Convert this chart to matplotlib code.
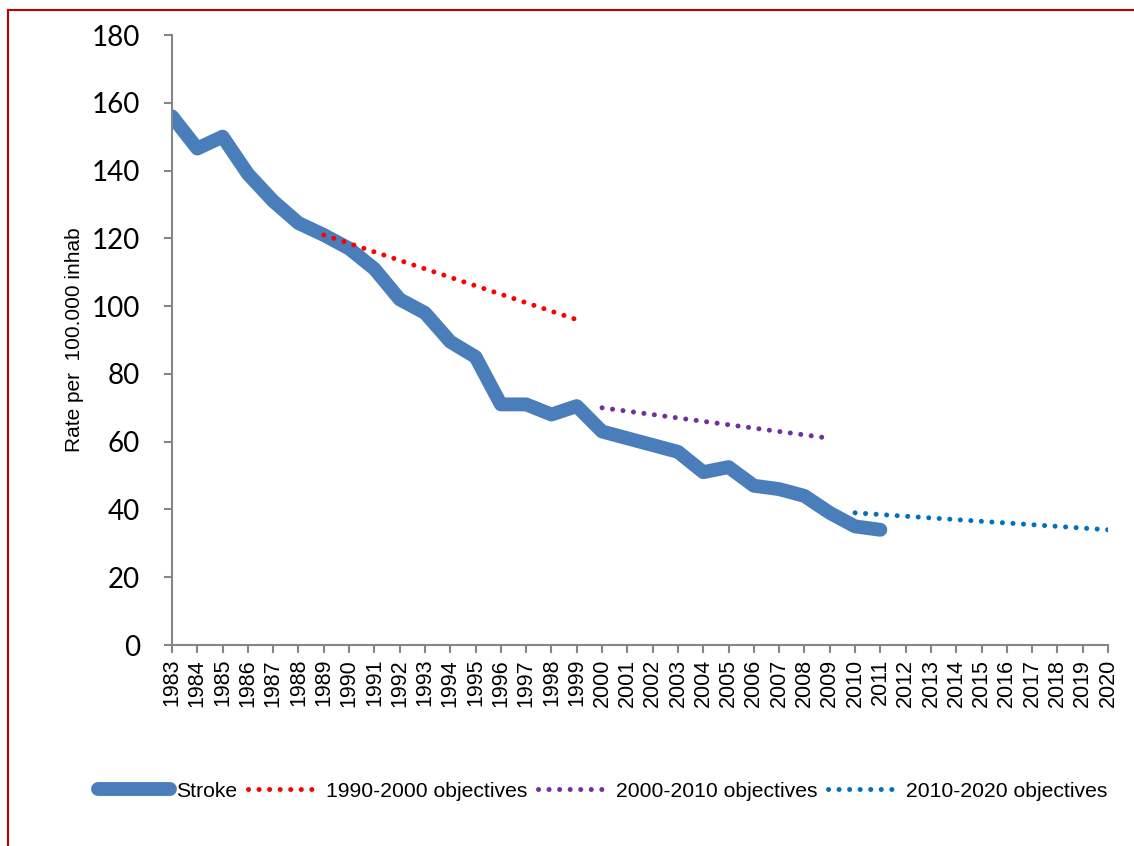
import numpy as np
import matplotlib.pyplot as plt
from matplotlib.lines import Line2D

# Years on the category axis
years = list(range(1983, 2021))

# Stroke mortality rate, 1983-2011
stroke_years = list(range(1983, 2012))
stroke = [156, 146.5, 150, 139, 131, 124.5, 121, 117, 111, 102,
          98, 89.5, 85, 71, 71, 68, 70.5, 63, 61, 59,
          57, 51, 52.5, 47, 46, 44, 39, 35, 34]

# Objective lines
obj_90_years = list(range(1989, 2000))
obj_90 = [121, 118.5, 116, 113.5, 111, 108.5, 106, 103.5, 101, 98.5, 96]
obj_00_years = list(range(2000, 2010))
obj_00 = [70, 69, 68, 67, 66, 65, 64, 63, 62, 61]
obj_10_years = list(range(2010, 2021))
obj_10 = [39, 38.5, 38, 37.5, 37, 36.5, 36, 35.5, 35, 34.5, 34]

BLUE = "#4A7EBB"
RED = "#FF0000"
PURPLE = "#7030A0"
LBLUE = "#0070C0"
AXIS = "#868686"

fig = plt.figure(figsize=(11.34, 8.46), dpi=100)
ax = fig.add_axes([172 / 1134, 1 - 645 / 846, (1108 - 172) / 1134, (645 - 35) / 846])

dot = (0, (0.01, 2.1))
ax.plot(stroke_years, stroke, color=BLUE, lw=10, solid_capstyle="round",
        solid_joinstyle="round", label="Stroke", zorder=2)
ax.plot(obj_90_years, obj_90, color=RED, lw=3.6, linestyle=dot,
        dash_capstyle="round", label="1990-2000 objectives", zorder=3)
ax.plot(obj_00_years, obj_00, color=PURPLE, lw=3.6, linestyle=dot,
        dash_capstyle="round", label="2000-2010 objectives", zorder=3)
ax.plot(obj_10_years, obj_10, color=LBLUE, lw=3.6, linestyle=dot,
        dash_capstyle="round", label="2010-2020 objectives", zorder=3)

ax.set_xlim(1983, 2020)
ax.set_ylim(0, 180)
ax.set_yticks(range(0, 181, 20))
ax.set_yticklabels([str(v) for v in range(0, 181, 20)], fontsize=20, family="Lato")
ax.set_xticks(years)
ax.set_xticklabels([str(y) for y in years], rotation=90, fontsize=15.5,
                   family="Liberation Sans")

for side in ("top", "right"):
    ax.spines[side].set_visible(False)
for side in ("left", "bottom"):
    ax.spines[side].set_color(AXIS)
    ax.spines[side].set_linewidth(1.5)
ax.tick_params(axis="both", direction="out", length=6, width=1.5, color=AXIS)
ax.tick_params(axis="y", pad=17)
ax.tick_params(axis="x", pad=4)

ax.set_ylabel("Rate per  100.000 inhab", fontsize=15, family="Liberation Sans")
ax.yaxis.set_label_coords(-0.094, 0.5)

handles = [
    Line2D([], [], color=BLUE, lw=10, solid_capstyle="round"),
    Line2D([], [], color=RED, lw=3.6, linestyle=dot, dash_capstyle="round"),
    Line2D([], [], color=PURPLE, lw=3.6, linestyle=dot, dash_capstyle="round"),
    Line2D([], [], color=LBLUE, lw=3.6, linestyle=dot, dash_capstyle="round"),
]
labels = ["Stroke", "1990-2000 objectives", "2000-2010 objectives", "2010-2020 objectives"]
fig.legend(handles, labels, loc="center", bbox_to_anchor=(603 / 1134, 1 - 791 / 846),
           ncol=4, frameon=False, prop={"family": "Liberation Sans", "size": 15.2},
           handlelength=3.4, handletextpad=0.3, columnspacing=0.5)

# Red frame on the left and top edges
fig.add_artist(Line2D([8 / 1134, 8 / 1134], [0, 1 - 10 / 846], color="#C00000", lw=1.5))
fig.add_artist(Line2D([8 / 1134, 1], [1 - 10 / 846, 1 - 10 / 846], color="#C00000", lw=1.5))

fig.savefig("out.png", dpi=100)
